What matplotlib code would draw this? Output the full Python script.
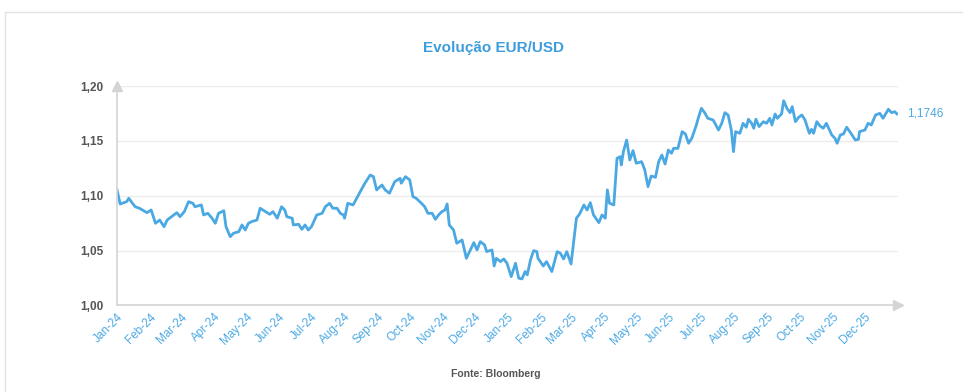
import pandas as pd
import matplotlib
matplotlib.use('Agg')
import matplotlib.pyplot as plt
import matplotlib.dates as mdates
from matplotlib.patches import Rectangle
from matplotlib.ticker import FuncFormatter

# dias desde 2024-01-01 e cotacao EUR/USD
dias = [0, 3, 9, 11, 14, 17, 21, 28, 32, 36, 40, 44, 47, 51, 56, 59, 63, 67, 71, 73,
        79, 81, 85, 89, 92, 95, 100, 102, 106, 109, 114, 117, 120, 123, 126, 131, 134, 139, 143, 146,
        150, 154, 157, 159, 164, 165, 170, 173, 176, 179, 182, 187, 192, 195, 199, 202, 206, 209, 212, 213,
        216, 221, 226, 232, 237, 240, 243, 248, 251, 255, 260, 265, 266, 270, 274, 277, 280, 285, 288, 291,
        295, 298, 301, 304, 307, 309, 311, 315, 318, 323, 327, 334, 337, 340, 344, 346, 351, 353, 355, 359,
        362, 365, 369, 373, 376, 379, 382, 384, 387, 390, 393, 394, 399, 402, 407, 412, 415, 418, 421, 425,
        430, 433, 437, 440, 443, 446, 451, 454, 457, 459, 461, 465, 468, 471, 472, 474, 477, 480, 483, 486,
        491, 494, 497, 500, 504, 507, 510, 513, 516, 519, 521, 525, 529, 532, 535, 538, 542, 544, 547, 550,
        553, 558, 563, 566, 569, 572, 575, 577, 579, 583, 586, 589, 591, 594, 596, 598, 601, 605, 608, 611,
        613, 616, 618, 622, 624, 627, 630, 632, 635, 638, 641, 644, 648, 650, 652, 655, 658, 661, 664, 669,
        672, 674, 677, 680, 683, 688, 691, 694, 695, 700, 703, 706, 710, 714, 717, 722, 725, 728, 730]
cotacao = [1.1053, 1.0925, 1.0946, 1.0977, 1.0937, 1.0900, 1.0886, 1.0846, 1.0870, 1.0749,
           1.0779, 1.0718, 1.0779, 1.0809, 1.0846, 1.0809, 1.0855, 1.0946, 1.0931, 1.0900,
           1.0916, 1.0825, 1.0840, 1.0795, 1.0749, 1.0840, 1.0864, 1.0718, 1.0627, 1.0658,
           1.0673, 1.0734, 1.0688, 1.0749, 1.0764, 1.0779, 1.0886, 1.0855, 1.0831, 1.0855,
           1.0795, 1.0900, 1.0870, 1.0809, 1.0795, 1.0734, 1.0740, 1.0694, 1.0734, 1.0688,
           1.0718, 1.0825, 1.0840, 1.0900, 1.0931, 1.0886, 1.0886, 1.0840, 1.0825, 1.0795,
           1.0931, 1.0916, 1.1007, 1.1114, 1.1189, 1.1174, 1.1053, 1.1098, 1.1053, 1.1023,
           1.1129, 1.1159, 1.1114, 1.1174, 1.1144, 1.0992, 1.0977, 1.0931, 1.0900, 1.0840,
           1.0840, 1.0785, 1.0825, 1.0855, 1.0870, 1.0925, 1.0734, 1.0688, 1.0567, 1.0597,
           1.0430, 1.0573, 1.0506, 1.0582, 1.0552, 1.0491, 1.0506, 1.0360, 1.0430, 1.0400,
           1.0424, 1.0385, 1.0263, 1.0385, 1.0249, 1.0242, 1.0309, 1.0279, 1.0415, 1.0500,
           1.0491, 1.0430, 1.0360, 1.0400, 1.0309, 1.0491, 1.0476, 1.0424, 1.0491, 1.0378,
           1.0795, 1.0834, 1.0916, 1.0870, 1.0937, 1.0825, 1.0755, 1.0825, 1.0795, 1.1053,
           1.0931, 1.0916, 1.1341, 1.1356, 1.1280, 1.1402, 1.1508, 1.1326, 1.1411, 1.1296,
           1.1311, 1.1235, 1.1083, 1.1180, 1.1168, 1.1311, 1.1371, 1.1289, 1.1417, 1.1387,
           1.1432, 1.1432, 1.1584, 1.1563, 1.1478, 1.1524, 1.1636, 1.1706, 1.1797, 1.1757,
           1.1706, 1.1690, 1.1599, 1.1660, 1.1757, 1.1736, 1.1599, 1.1402, 1.1584, 1.1569,
           1.1660, 1.1624, 1.1697, 1.1660, 1.1615, 1.1697, 1.1630, 1.1675, 1.1660, 1.1706,
           1.1645, 1.1745, 1.1706, 1.1745, 1.1866, 1.1797, 1.1757, 1.1812, 1.1675, 1.1715,
           1.1736, 1.1690, 1.1569, 1.1605, 1.1569, 1.1675, 1.1636, 1.1615, 1.1660, 1.1554,
           1.1524, 1.1478, 1.1554, 1.1563, 1.1624, 1.1554, 1.1508, 1.1514, 1.1584, 1.1599,
           1.1660, 1.1645, 1.1736, 1.1751, 1.1706, 1.1788, 1.1757, 1.1766, 1.1746]
ultimo = '1,1746'
meses = pd.date_range('2024-01-01', '2025-12-01', freq='MS')
y_ticks = [1.00, 1.05, 1.10, 1.15, 1.20]

datas = pd.Timestamp('2024-01-01') + pd.to_timedelta(dias, unit='D')

azul = '#4aa8e3'
cinza = '#d4d4d4'
plt.rcParams['font.family'] = ['Liberation Sans', 'DejaVu Sans']

fig = plt.figure(figsize=(9.63, 3.92), dpi=100)
ax = fig.add_axes([0.1215, 0.2207, 0.811, 0.5599])

# moldura
fig.patches.append(Rectangle((5 / 963, -0.1), 1.2, (392 - 12) / 392 + 0.1,
                             transform=fig.transFigure, fill=False,
                             edgecolor='#e3e3e3', lw=1))

ax.plot(datas, cotacao, color=azul, lw=2.0, solid_joinstyle='round')

ax.set_xlim(pd.Timestamp('2024-01-01'), pd.Timestamp('2026-01-01'))
ax.set_ylim(1.00, 1.20)
ax.set_xticks(meses)
ax.xaxis.set_major_formatter(mdates.DateFormatter('%b-%y'))
ax.set_yticks(y_ticks)
ax.yaxis.set_major_formatter(FuncFormatter(lambda v, p: f'{v:.2f}'.replace('.', ',')))

for s in ['top', 'right']:
    ax.spines[s].set_visible(False)
for s in ['left', 'bottom']:
    ax.spines[s].set_color(cinza)
    ax.spines[s].set_linewidth(1.2)

ax.grid(axis='y', color='#ececec', lw=1)
ax.set_axisbelow(True)
ax.tick_params(axis='both', length=0)
ax.tick_params(axis='y', pad=10, labelsize=8.5, labelcolor='#555555')
ax.tick_params(axis='x', pad=4, labelsize=8.5, labelcolor=azul)
for lab in ax.get_yticklabels():
    lab.set_fontweight('bold')
for lab in ax.get_xticklabels():
    lab.set_rotation(45)
    lab.set_ha('right')
    lab.set_rotation_mode('anchor')

# setas dos eixos
ax.plot(0, 1, marker='^', ms=7, color=cinza, transform=ax.transAxes, clip_on=False)
ax.plot(1, 0, marker='>', ms=7, color=cinza, transform=ax.transAxes, clip_on=False)

ax.annotate(ultimo, xy=(datas[-1], cotacao[-1]), xytext=(7, 0), textcoords='offset points',
            va='center', ha='left', fontsize=8.5, color=azul, annotation_clip=False)

fig.text(0.512, 0.877, 'Evolução EUR/USD', ha='center', va='center', fontsize=11,
         fontweight='bold', color='#3d9ddc')
fig.text(0.515, 0.046, 'Fonte: Bloomberg', ha='center', va='center', fontsize=7.5,
         fontweight='bold', color='#555555')

fig.savefig('out.png', dpi=100)
